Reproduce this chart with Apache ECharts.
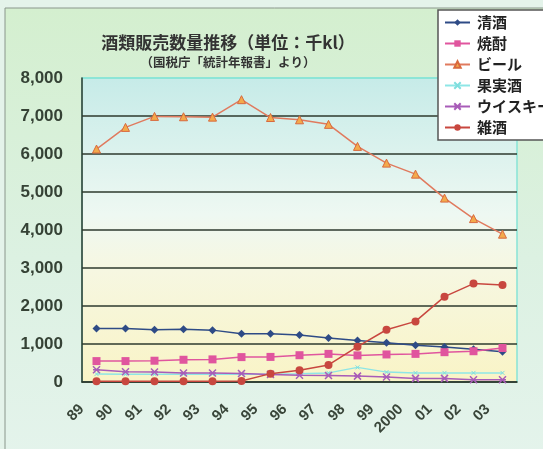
<!DOCTYPE html>
<html>
<head>
<meta charset="utf-8">
<script src="https://cdn.jsdelivr.net/npm/echarts@6/dist/echarts.min.js"></script>
<style>
  html, body { margin: 0; padding: 0; background: #e4f3ea; }
  #chart { width: 543px; height: 449px; }
</style>
</head>
<body>
<div id="chart"></div>
<script>
// Fiscal years (1989 – 2003)
const years = ['89', '90', '91', '92', '93', '94', '95', '96', '97', '98', '99', '2000', '01', '02', '03'];

// Sales volume by liquor type, thousand kl
const seishu  = [1410, 1410, 1375, 1390, 1365, 1270, 1270, 1235, 1155, 1095, 1030, 970, 920, 865, 795];
const shochu  = [550, 550, 560, 585, 595, 655, 660, 705, 740, 700, 725, 740, 785, 810, 895];
const beer    = [6130, 6700, 6990, 6980, 6970, 7430, 6960, 6900, 6780, 6200, 5760, 5470, 4840, 4300, 3890];
const kajitsu = [210, 205, 205, 205, 205, 205, 205, 215, 240, 385, 260, 240, 240, 240, 240];
const whisky  = [320, 270, 265, 235, 235, 225, 200, 180, 170, 155, 130, 95, 95, 60, 60];
const zasshu  = [20, 20, 20, 20, 20, 25, 220, 310, 450, 930, 1375, 1595, 2245, 2590, 2550];

const yTicks = [0, 1000, 2000, 3000, 4000, 5000, 6000, 7000, 8000];

const FONT = '"Noto Sans CJK JP", "Noto Sans", sans-serif';
const NUMFONT = '"Liberation Sans", Arial, sans-serif';

const chart = echarts.init(document.getElementById('chart'), null, { renderer: 'canvas' });

function lineSeries(name, data, color, symbol, size, extra) {
  return Object.assign({
    name: name,
    type: 'line',
    data: data,
    symbol: symbol,
    symbolSize: size,
    showSymbol: true,
    lineStyle: { color: color, width: 1.5 },
    itemStyle: { color: color },
    emphasis: { disabled: true },
    z: 3
  }, extra || {});
}

const crossPath = 'path://M0,0L10,10M10,0L0,10';
const starPath = 'path://M0,0L10,10M10,0L0,10M0,5L10,5';

chart.setOption({
  animation: false,
  backgroundColor: 'transparent',
  graphic: [
    {
      type: 'rect',
      shape: { x: 5, y: 8, width: 600, height: 500 },
      style: {
        fill: new echarts.graphic.LinearGradient(0, 0, 0, 1, [
          { offset: 0, color: '#d4efcf' },
          { offset: 0.5, color: '#dcf1e2' },
          { offset: 1, color: '#e6f4ee' }
        ]),
        stroke: '#8a968c',
        lineWidth: 1
      },
      z: -10,
      silent: true
    }
  ],
  title: {
    text: '酒類販売数量推移（単位：千kl）',
    subtext: '（国税庁「統計年報書」より）',
    left: 223,
    textAlign: 'center',
    top: 29,
    itemGap: 5,
    textStyle: { fontFamily: FONT, fontSize: 17, fontWeight: 'bold', color: '#333' },
    subtextStyle: { fontFamily: FONT, fontSize: 12.5, fontWeight: 'bold', color: '#333' }
  },
  legend: {
    orient: 'vertical',
    left: 438,
    top: 10,
    padding: [5, 40, 5, 6],
    itemWidth: 25,
    itemHeight: 8,
    itemGap: 6,
    backgroundColor: '#ffffff',
    borderColor: '#555',
    borderWidth: 1.5,
    textStyle: { fontFamily: FONT, fontSize: 15, fontWeight: 'bold', color: '#222', padding: [0, 0, 0, 2] },
    data: ['清酒', '焼酎', 'ビール', '果実酒', 'ウイスキー', '雑酒']
  },
  grid: {
    left: 82,
    right: 26,
    top: 78,
    bottom: 67,
    show: true,
    backgroundColor: new echarts.graphic.LinearGradient(0, 0, 0, 1, [
      { offset: 0, color: '#c6ebe8' },
      { offset: 0.45, color: '#eef8f2' },
      { offset: 0.62, color: '#f6f7e2' },
      { offset: 1, color: '#f9f4c6' }
    ]),
    borderColor: '#88e4d6',
    borderWidth: 1.5
  },
  xAxis: {
    type: 'category',
    data: years,
    boundaryGap: true,
    axisLine: { lineStyle: { color: '#2e3a2e', width: 1.5 } },
    axisTick: { inside: true, length: 5, lineStyle: { color: '#2e3a2e' } },
    axisLabel: {
      rotate: 45,
      interval: 0,
      margin: 10,
      padding: [0, 21, 0, 0],
      fontFamily: NUMFONT,
      fontSize: 15,
      fontWeight: 'bold',
      color: '#3a463a'
    }
  },
  yAxis: {
    type: 'value',
    min: yTicks[0],
    max: yTicks[yTicks.length - 1],
    interval: 1000,
    axisLine: { show: true, lineStyle: { color: '#2e3a2e', width: 1.5 } },
    axisTick: { show: false },
    splitLine: {
      lineStyle: {
        width: 1.5,
        color: ['#2e3a2e', '#2e3a2e', '#2e3a2e', '#2e3a2e', '#2e3a2e', '#2e3a2e', '#2e3a2e', '#2e3a2e', '#88e4d6']
      }
    },
    axisLabel: {
      margin: 19,
      fontFamily: NUMFONT,
      fontSize: 17,
      fontWeight: 'bold',
      color: '#354235',
      formatter: function (v) { return v.toLocaleString('en-US'); }
    }
  },
  series: [
    lineSeries('清酒', seishu, '#2e4b86', 'diamond', 8),
    lineSeries('焼酎', shochu, '#e0559e', 'rect', 8),
    lineSeries('ビール', beer, '#e07a5e', 'triangle', 8, {
      itemStyle: { color: '#f3aa4c', borderColor: '#d8693e', borderWidth: 1 }
    }),
    lineSeries('果実酒', kajitsu, '#8ee6e6', crossPath, 4, {
      itemStyle: { color: '#8ee6e6', borderColor: '#7fdede', borderWidth: 1 }
    }),
    lineSeries('ウイスキー', whisky, '#a85cb8', starPath, 7, {
      itemStyle: { color: '#a85cb8', borderColor: '#a85cb8', borderWidth: 1.5 }
    }),
    lineSeries('雑酒', zasshu, '#c8473f', 'circle', 8)
  ]
});
</script>
</body>
</html>
